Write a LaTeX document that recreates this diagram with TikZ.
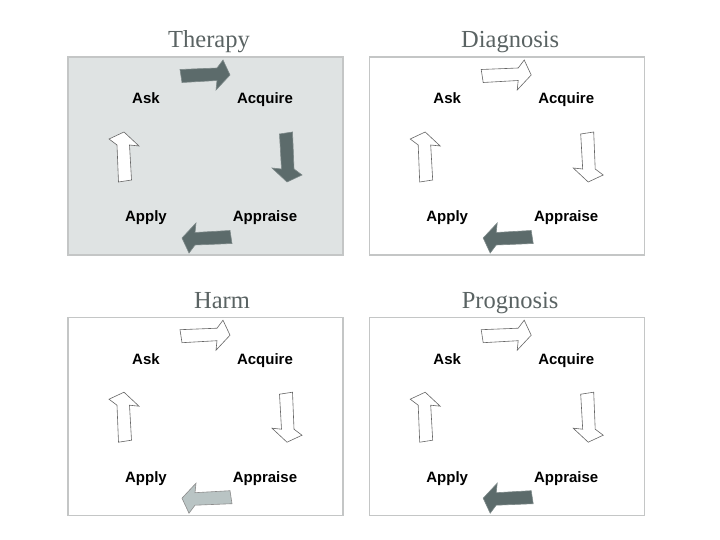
\documentclass[tikz,border=0pt]{standalone}
\usepackage{fontspec}
\setmainfont{Liberation Serif}
\newfontfamily\stagefont{Liberation Sans}
\usetikzlibrary{positioning}

\definecolor{panelgrey}{HTML}{DFE3E3}
\definecolor{framegrey}{HTML}{C4C6C6}
\definecolor{titlegrey}{HTML}{5A6363}
\definecolor{darkslate}{HTML}{5C6B6B}
\definecolor{paleslate}{HTML}{B9C4C4}

\begin{document}
\begin{tikzpicture}[x=1pt, y=-1pt]
    \tikzstyle{panel}    = [rectangle, minimum width=275pt, minimum height=198pt, draw=framegrey, line width=1.2pt, fill=white]
    \tikzstyle{heading}  = [anchor=base, text=titlegrey, font=\fontsize{24.5}{28}\selectfont]
    \tikzstyle{stage}    = [anchor=base, font=\stagefont\bfseries\fontsize{15}{18}\selectfont]
    \tikzstyle{hollow}   = [draw=black!60, fill=white, line width=0.6pt]
    \tikzstyle{filled}   = [draw=darkslate!80, fill=darkslate, line width=0.6pt]
    \tikzstyle{pale}     = [draw=black!45, fill=paleslate, line width=0.6pt]
    \tikzset{cyclearrow/.pic={\draw[pic actions] (-25,-5.5) -- (12,-7) -- (18,-15) -- (25,0) -- (11,15) -- (12,5.5) -- (-23,7.5) -- cycle;}}

    \useasboundingbox (0,0) rectangle (720,540);

    % Panels
    \node [panel, fill=panelgrey] (therapy) at (205.5,156) {};
    \node [panel, right=25pt of therapy]  (diagnosis) {};
    \node [panel, below=61pt of therapy]  (harm)      {};
    \node [panel, right=25pt of harm]     (prognosis) {};

    % Therapy
    \node [heading] (therapy-title)    at ([shift={(3.5,-108)}]therapy.center)  {Therapy};
    \node [stage]   (therapy-ask)      at ([shift={(-59.5,-52)}]therapy.center) {Ask};
    \node [stage]   (therapy-acquire)  at ([shift={(59.5,-52)}]therapy.center)  {Acquire};
    \node [stage]   (therapy-appraise) at ([shift={(59.5,66)}]therapy.center)   {Appraise};
    \node [stage]   (therapy-apply)    at ([shift={(-59.5,66)}]therapy.center)  {Apply};
    \pic [filled]              at ([shift={(-0.5,-81)}]therapy.center) {cyclearrow};
    \pic [filled, rotate=-90]  at ([shift={(81.5,1)}]therapy.center)   {cyclearrow};
    \pic [filled, rotate=180]  at ([shift={(1.5,82)}]therapy.center)   {cyclearrow};
    \pic [hollow, rotate=90]   at ([shift={(-81.5,1)}]therapy.center)  {cyclearrow};

    % Diagnosis
    \node [heading] (diagnosis-title)    at ([shift={(3.5,-108)}]diagnosis.center)  {Diagnosis};
    \node [stage]   (diagnosis-ask)      at ([shift={(-59.5,-52)}]diagnosis.center) {Ask};
    \node [stage]   (diagnosis-acquire)  at ([shift={(59.5,-52)}]diagnosis.center)  {Acquire};
    \node [stage]   (diagnosis-appraise) at ([shift={(59.5,66)}]diagnosis.center)   {Appraise};
    \node [stage]   (diagnosis-apply)    at ([shift={(-59.5,66)}]diagnosis.center)  {Apply};
    \pic [hollow]              at ([shift={(-0.5,-81)}]diagnosis.center) {cyclearrow};
    \pic [hollow, rotate=-90]  at ([shift={(81.5,1)}]diagnosis.center)   {cyclearrow};
    \pic [filled, rotate=180]  at ([shift={(1.5,82)}]diagnosis.center)   {cyclearrow};
    \pic [hollow, rotate=90]   at ([shift={(-81.5,1)}]diagnosis.center)  {cyclearrow};

    % Harm
    \node [heading] (harm-title)    at ([shift={(16.5,-108)}]harm.center)  {Harm};
    \node [stage]   (harm-ask)      at ([shift={(-59.5,-52)}]harm.center) {Ask};
    \node [stage]   (harm-acquire)  at ([shift={(59.5,-52)}]harm.center)  {Acquire};
    \node [stage]   (harm-appraise) at ([shift={(59.5,66)}]harm.center)   {Appraise};
    \node [stage]   (harm-apply)    at ([shift={(-59.5,66)}]harm.center)  {Apply};
    \pic [hollow]              at ([shift={(-0.5,-81)}]harm.center) {cyclearrow};
    \pic [hollow, rotate=-90]  at ([shift={(81.5,1)}]harm.center)   {cyclearrow};
    \pic [pale, rotate=180]    at ([shift={(1.5,82)}]harm.center)   {cyclearrow};
    \pic [hollow, rotate=90]   at ([shift={(-81.5,1)}]harm.center)  {cyclearrow};

    % Prognosis
    \node [heading] (prognosis-title)    at ([shift={(3.5,-108)}]prognosis.center)  {Prognosis};
    \node [stage]   (prognosis-ask)      at ([shift={(-59.5,-52)}]prognosis.center) {Ask};
    \node [stage]   (prognosis-acquire)  at ([shift={(59.5,-52)}]prognosis.center)  {Acquire};
    \node [stage]   (prognosis-appraise) at ([shift={(59.5,66)}]prognosis.center)   {Appraise};
    \node [stage]   (prognosis-apply)    at ([shift={(-59.5,66)}]prognosis.center)  {Apply};
    \pic [hollow]              at ([shift={(-0.5,-81)}]prognosis.center) {cyclearrow};
    \pic [hollow, rotate=-90]  at ([shift={(81.5,1)}]prognosis.center)   {cyclearrow};
    \pic [filled, rotate=180]  at ([shift={(1.5,82)}]prognosis.center)   {cyclearrow};
    \pic [hollow, rotate=90]   at ([shift={(-81.5,1)}]prognosis.center)  {cyclearrow};

\end{tikzpicture}
\end{document}
